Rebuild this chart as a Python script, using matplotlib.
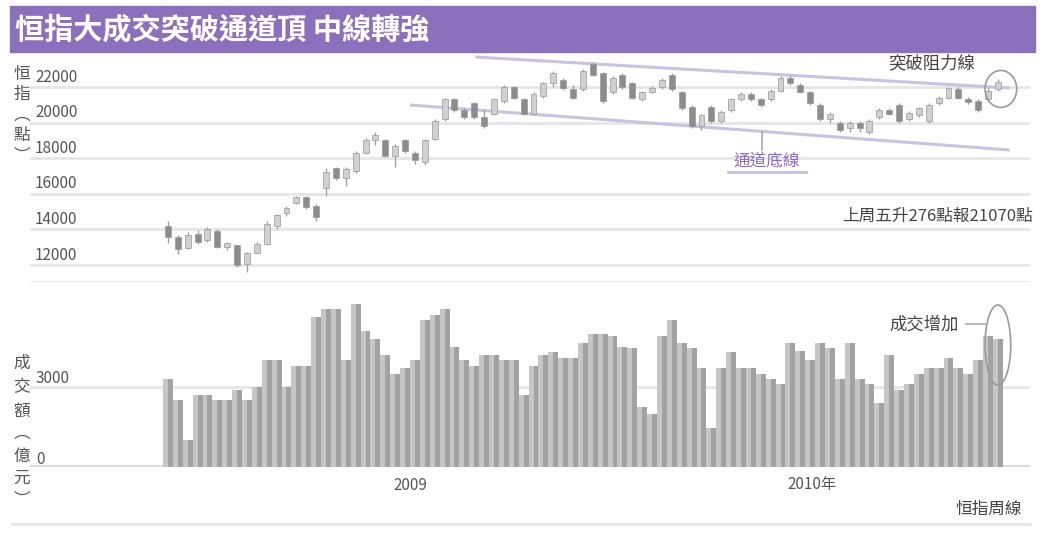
import matplotlib
matplotlib.use('Agg')
import matplotlib.pyplot as plt
from matplotlib.patches import Rectangle, Ellipse
from matplotlib.lines import Line2D
from matplotlib.transforms import blended_transform_factory, offset_copy

plt.rcParams['font.family'] = ['Noto Sans CJK TC', 'DejaVu Sans']

# ---- data (weekly) ----
opens = [14200, 13600, 12950, 13750, 13400, 13900, 13000, 13100, 12050, 12700,
         13200, 14200, 14900, 15500, 15800, 15300, 16300, 17450, 16900, 17300,
         18300, 19000, 19000, 18100, 19000, 18300, 17800, 19100, 20200, 21300,
         20700, 21100, 20300, 20500, 21200, 22000, 21300, 20500, 21500, 22200,
         22400, 21900, 21900, 23300, 22800, 21700, 22700, 22200, 21300, 21700,
         22000, 22700, 21700, 20900, 19800, 20900, 20100, 20700, 21300, 21600,
         21300, 21300, 21800, 22500, 22100, 21700, 21000, 20200, 20000, 19700,
         20000, 19500, 20300, 20700, 21000, 20200, 20400, 20100, 21100, 21400,
         21900, 21350, 21200, 21300, 21900]
closes = [13600, 12900, 13700, 13300, 14000, 13000, 13250, 12000, 12650, 13200,
          14300, 14800, 15200, 15800, 15250, 14700, 17200, 16900, 17400, 18300,
          19000, 19300, 18100, 18700, 18400, 17900, 19000, 20100, 21300, 20700,
          20300, 20300, 19800, 21300, 22000, 21400, 20500, 21600, 22200, 22800,
          21950, 21400, 22900, 22700, 21200, 22500, 22000, 21400, 21700, 21950,
          22400, 21900, 20800, 19800, 20400, 20100, 20600, 21300, 21600, 21300,
          21000, 21800, 22500, 22200, 21700, 21100, 20200, 20500, 19600, 20000,
          19700, 20100, 20700, 20500, 20100, 20550, 20800, 21000, 21400, 21950,
          21400, 21150, 20700, 21800, 22300]
highs = [14450, 13700, 13850, 13950, 14150, 14000, 13300, 13150, 12750, 13300,
         14450, 14850, 15300, 15900, 15850, 15450, 17450, 17500, 17500, 18400,
         19150, 19450, 19100, 18800, 19100, 18400, 19100, 20200, 21400, 21400,
         20800, 21150, 20700, 21400, 22100, 22050, 21400, 21700, 22300, 22900,
         22500, 22100, 23000, 23400, 22850, 22600, 22800, 22300, 21800, 22050,
         22500, 22800, 21800, 21000, 20500, 21000, 20700, 21400, 21700, 21700,
         21400, 21900, 22600, 22650, 22200, 21800, 21100, 20600, 20100, 20100,
         20100, 20200, 20800, 20800, 21100, 20650, 20900, 21100, 21500, 22000,
         22000, 21450, 21300, 21950, 22450]
lows = [13250, 12600, 12900, 13200, 13300, 12950, 12850, 11900, 11600, 12650,
        13100, 14000, 14750, 15400, 15150, 14500, 15900, 16750, 16450, 17150,
        18250, 18750, 18050, 17500, 18300, 17700, 17600, 19000, 20100, 20600,
        20200, 20200, 19700, 20400, 21100, 21300, 20400, 20400, 21400, 22000,
        21850, 21300, 21800, 22600, 21100, 21600, 21900, 21300, 21200, 21650,
        21900, 21800, 20700, 19700, 19600, 20000, 20000, 20600, 21200, 21200,
        20900, 21200, 21700, 22100, 21650, 21000, 20100, 20000, 19450, 19500,
        19450, 19350, 20200, 20400, 20000, 20100, 20300, 20000, 21000, 21300,
        21300, 21050, 20600, 21200, 21800]
# 成交額 (億元)
volume = [3300, 2500, 1000, 2700, 2700, 2500, 2500, 2900, 2500, 3000,
          4000, 4000, 3000, 3800, 3800, 5600, 5900, 5900, 4000, 6100,
          5100, 4800, 4200, 3500, 3700, 4000, 5500, 5700, 5900, 4500,
          4000, 3800, 4200, 4200, 4000, 4000, 2700, 3800, 4200, 4300,
          4100, 4100, 4650, 5000, 5000, 4900, 4500, 4450, 2250, 2000,
          4900, 5500, 4650, 4450, 3700, 1450, 3700, 4300, 3700, 3700,
          3500, 3300, 3100, 4650, 4350, 4000, 4650, 4450, 3300, 4650,
          3300, 3100, 2400, 4200, 2900, 3100, 3500, 3700, 3700, 4100,
          3700, 3500, 4000, 4900, 4800]

price_ticks = [22000, 20000, 18000, 16000, 14000, 12000]
vol_ticks = [3000, 0]
year_labels = ['2009', '2010年']
year_label_pos = [24.5, 65.2]
year_break = 49.5

# trend lines (week index, index level)
upper_line_x = [31.1, 85.2]
upper_line_y = [23685, 21944]
lower_line_x = [24.5, 85.2]
lower_line_y = [20990, 18460]

title = '恒指大成交突破通道頂 中線轉強'

# ---- figure ----
W, H = 1045, 540
fig = plt.figure(figsize=(10.45, 5.4), dpi=100)


def fx(px):
    return px / W


def fy(py):
    return 1 - py / H


purple = '#8c70be'
grid_c = '#e6e6e6'
txt_c = '#555555'

# title bar
fig.patches.append(Rectangle((fx(10), fy(52)), fx(1025), 46 / H,
                             transform=fig.transFigure, color=purple))
fig.text(fx(15), fy(29), title, color='white', fontsize=21,
         fontweight='bold', va='center', ha='left')

ax_top = fig.add_axes([fx(30), fy(282), fx(1000), (282 - 55) / H])
ax_bot = fig.add_axes([fx(30), fy(467), fx(1000), (467 - 290) / H])
xlim = (-13.96, 87.25)

for ax in (ax_top, ax_bot):
    ax.set_xlim(*xlim)
    for s in ax.spines.values():
        s.set_visible(False)
    ax.set_xticks([])
    ax.set_yticks([])
    ax.patch.set_alpha(0)

# ---- price panel ----
ax_top.set_ylim(11045, 23798)
for v in price_ticks:
    ax_top.axhline(v, color=grid_c, lw=2, zorder=0)
ax_top.axhline(11045, color=grid_c, lw=2, zorder=0)

lbl_tr = offset_copy(blended_transform_factory(ax_top.transAxes, ax_top.transData),
                     fig=fig, y=10, units='dots')
for v in price_ticks:
    ax_top.text(0.005, v, str(v), transform=lbl_tr, fontsize=11,
                color=txt_c, va='center', ha='left')

ax_top.plot(upper_line_x, upper_line_y, color='#cbc0e6', lw=2.2, zorder=1,
            solid_capstyle='butt')
ax_top.plot(lower_line_x, lower_line_y, color='#cbc0e6', lw=2.2, zorder=1,
            solid_capstyle='butt')

for i in range(len(opens)):
    o, c, h, l = opens[i], closes[i], highs[i], lows[i]
    up = c >= o
    ax_top.vlines(i, l, h, color='#a0a0a0', lw=1, zorder=2)
    ax_top.bar(i, abs(c - o) if abs(c - o) > 60 else 60, bottom=min(o, c),
               width=0.6, color='#d0d0d0' if up else '#8c8c8c',
               edgecolor='#999999', lw=0.5, zorder=3)

ax_top.add_patch(Ellipse((84.3, 21890), 3.2, 2080, fill=False,
                         edgecolor='#9a9a9a', lw=1.2, zorder=4))

fig.text(fx(932), fy(63), '突破阻力線', fontsize=12.5, color='#444444',
         ha='center', va='center')
fig.text(fx(1033), fy(216), '上周五升276點報21070點', fontsize=12,
         color='#444444', ha='right', va='center')
fig.text(fx(767), fy(161), '通道底線', fontsize=12, color='#8a6cc8',
         ha='center', va='center')
fig.add_artist(Line2D([fx(728), fx(806)], [fy(172), fy(172)], color='#c9bde6',
                      lw=2, transform=fig.transFigure))
fig.add_artist(Line2D([fx(762), fx(762)], [fy(150), fy(132)], color='#aaaaaa',
                      lw=1.2, transform=fig.transFigure))

# ---- volume panel ----
ax_bot.set_ylim(0, 6630)
ax_bot.axhline(3000, color=grid_c, lw=2, zorder=0)
ax_bot.axhline(0, color='#dcdcdc', lw=3, zorder=0)
idx = list(range(len(volume)))
ax_bot.bar([i - 0.25 for i in idx], volume, width=0.5, color='#c6c6c6', lw=0, zorder=1)
ax_bot.bar([i + 0.25 for i in idx], volume, width=0.5, color='#a2a2a2', lw=0, zorder=1)

lbl_tr2 = offset_copy(blended_transform_factory(ax_bot.transAxes, ax_bot.transData),
                      fig=fig, y=8, units='dots')
for v in vol_ticks:
    ax_bot.text(0.006, v, str(v), transform=lbl_tr2, fontsize=11,
                color=txt_c, va='center', ha='left')

ax_bot.add_patch(Ellipse((84.0, 4570), 2.6, 3000, fill=False,
                         edgecolor='#9a9a9a', lw=1.2, zorder=4))
fig.text(fx(924), fy(325), '成交增加', fontsize=12.5, color='#444444',
         ha='center', va='center')
fig.add_artist(Line2D([fx(966), fx(987)], [fy(324), fy(324)], color='#aaaaaa',
                      lw=1.2, transform=fig.transFigure))

# x axis labels under volume
tick_tr = blended_transform_factory(ax_bot.transData, fig.transFigure)
for p, t in zip(year_label_pos, year_labels):
    ax_bot.text(p, fy(485), t, transform=tick_tr, fontsize=11, color=txt_c,
                ha='center', va='center')
ax_bot.add_artist(Line2D([year_break, year_break], [fy(467), fy(477)],
                         transform=tick_tr, color='#aaaaaa', lw=1.2))

# vertical axis titles
for py, ch in [(74, '恒'), (95, '指'), (115, '︵'), (136, '點'), (156, '︶')]:
    fig.text(fx(22), fy(py), ch, fontsize=12, color=txt_c, ha='center', va='center')
for py, ch in [(363, '成'), (388, '交'), (411, '額'), (433, '︵'),
               (456, '億'), (478, '元'), (500, '︶')]:
    fig.text(fx(22), fy(py), ch, fontsize=12, color=txt_c, ha='center', va='center')

# bottom rule and source
fig.add_artist(Line2D([fx(12), fx(1030)], [fy(524), fy(524)], color=grid_c,
                      lw=2, transform=fig.transFigure))
fig.text(fx(989), fy(509), '恒指周線', fontsize=12, color='#444444',
         ha='center', va='center')

fig.savefig('out.png', dpi=100)
